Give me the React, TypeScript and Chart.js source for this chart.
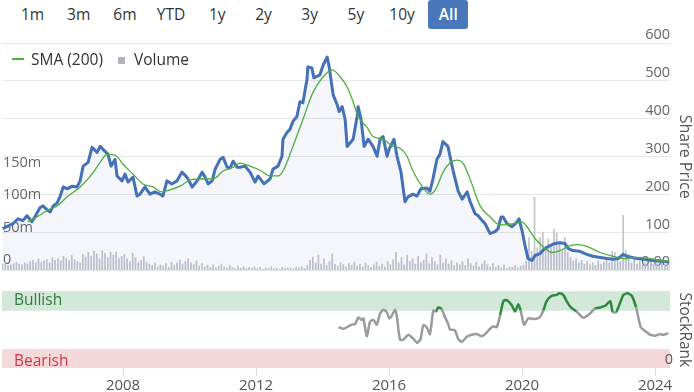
import React, { useEffect, useRef } from "react";
import { Chart, registerables } from "chart.js";
Chart.register(...registerables);

const FONT = "'Open Sans', 'Noto Sans', sans-serif";

const rangeButtons = ["1m", "3m", "6m", "YTD", "1y", "2y", "3y", "5y", "10y", "All"];
const activeButton = "All";
const xMin = 2004.36;
const xMax = 2024.45;
const xTickStep = 4;

const priceYears = [
  2004.38, 2004.69, 2004.84, 2004.99, 2005.11, 2005.26, 2005.35, 2005.5, 2005.59, 2005.71, 2005.81, 2005.9,
  2006.02, 2006.11, 2006.2, 2006.32, 2006.47, 2006.62, 2006.71, 2006.8, 2006.95, 2007.07, 2007.22, 2007.31,
  2007.46, 2007.55, 2007.64, 2007.76, 2007.82, 2007.97, 2008.06, 2008.15, 2008.3, 2008.42, 2008.51, 2008.66,
  2008.81, 2008.96, 2009.11, 2009.2, 2009.32, 2009.47, 2009.62, 2009.77, 2009.92, 2010.08, 2010.23, 2010.38,
  2010.47, 2010.56, 2010.68, 2010.77, 2010.92, 2011.01, 2011.13, 2011.22, 2011.31, 2011.43, 2011.52, 2011.67,
  2011.82, 2011.97, 2012.06, 2012.24, 2012.42, 2012.51, 2012.66, 2012.78, 2012.81, 2012.93, 2013.02, 2013.11,
  2013.23, 2013.32, 2013.41, 2013.53, 2013.56, 2013.68, 2013.74, 2013.92, 2014.02, 2014.14, 2014.2, 2014.32,
  2014.44, 2014.5, 2014.59, 2014.68, 2014.74, 2014.92, 2015.04, 2015.07, 2015.16, 2015.25, 2015.37, 2015.52,
  2015.64, 2015.73, 2015.82, 2015.94, 2016.0, 2016.15, 2016.24, 2016.36, 2016.48, 2016.57, 2016.72, 2016.84,
  2016.96, 2017.14, 2017.23, 2017.32, 2017.44, 2017.53, 2017.62, 2017.77, 2017.93, 2018.08, 2018.2, 2018.35,
  2018.44, 2018.59, 2018.68, 2018.8, 2018.89, 2019.04, 2019.19, 2019.28, 2019.37, 2019.43, 2019.55, 2019.7,
  2019.85, 2019.91, 2020.0, 2020.09, 2020.18, 2020.3, 2020.39, 2020.54, 2020.69, 2020.84, 2020.99, 2021.14,
  2021.29, 2021.38, 2021.53, 2021.74, 2021.95, 2022.13, 2022.35, 2022.56, 2022.74, 2022.89, 2023.04, 2023.16,
  2023.31, 2023.46, 2023.64, 2023.94, 2024.24, 2024.42,
];
const priceValues = [
  110, 123, 136, 131, 144, 128, 141, 165, 170, 160, 154, 170,
  178, 196, 220, 215, 222, 220, 236, 275, 285, 325, 311, 327,
  314, 306, 275, 293, 249, 236, 254, 233, 246, 196, 201, 220,
  201, 207, 201, 196, 236, 228, 236, 259, 246, 220, 236, 259,
  246, 228, 236, 267, 293, 298, 272, 270, 288, 272, 272, 275,
  259, 233, 249, 228, 241, 267, 275, 301, 346, 364, 372, 393,
  406, 445, 442, 503, 537, 534, 508, 516, 542, 563, 537, 463,
  437, 419, 432, 398, 327, 346, 406, 432, 398, 327, 346, 327,
  301, 346, 353, 301, 319, 346, 301, 259, 181, 194, 201, 196,
  215, 217, 209, 241, 293, 306, 340, 327, 262, 209, 188, 207,
  181, 149, 144, 131, 123, 97, 102, 110, 141, 141, 123, 115,
  128, 136, 105, 65, 31, 26, 39, 44, 58, 65, 71, 73,
  71, 58, 52, 50, 42, 37, 34, 31, 29, 31, 42, 37,
  34, 31, 29, 26, 24, 22,
];

const smaYears = [
  2005.14, 2005.41, 2005.81, 2006.02, 2006.32, 2006.71, 2007.07, 2007.31, 2007.52, 2007.76, 2008.0, 2008.3,
  2008.6, 2008.9, 2009.17, 2009.41, 2009.71, 2010.01, 2010.32, 2010.71, 2011.01, 2011.31, 2011.52, 2011.82,
  2012.12, 2012.42, 2012.66, 2012.81, 2013.11, 2013.41, 2013.71, 2014.02, 2014.29, 2014.53, 2014.74, 2014.92,
  2015.07, 2015.34, 2015.52, 2015.82, 2016.12, 2016.33, 2016.54, 2016.72, 2016.99, 2017.23, 2017.41, 2017.62,
  2017.83, 2018.04, 2018.23, 2018.44, 2018.74, 2019.04, 2019.25, 2019.43, 2019.73, 2020.0, 2020.15, 2020.39,
  2020.63, 2020.9, 2021.14, 2021.44, 2021.68, 2021.95, 2022.35, 2022.74, 2023.04, 2023.46, 2023.85, 2024.15,
  2024.42,
];
const smaValues = [
  128, 141, 162, 170, 194, 220, 254, 285, 306, 304, 280, 254,
  228, 220, 207, 212, 222, 238, 241, 241, 262, 272, 283, 275,
  264, 249, 249, 262, 327, 398, 469, 511, 529, 511, 484, 445,
  406, 377, 353, 346, 327, 322, 301, 262, 222, 201, 215, 258,
  283, 291, 282, 240, 170, 141, 123, 120, 123, 128, 115, 84,
  63, 47, 52, 65, 68, 63, 47, 37, 31, 34, 31, 26,
  24,
];

// Monthly volume in millions, starting May 2004
const volumeStartYear = 2004 + 4 / 12;
const volumeValues = [
  10, 12, 8, 9, 11, 13, 10, 9,
  12, 10, 14, 16, 12, 18, 13, 15, 17, 12, 20, 16,
  18, 15, 22, 19, 16, 23, 17, 14, 12, 25, 21, 28,
  22, 30, 26, 18, 31, 27, 20, 28, 24, 29, 19, 22,
  25, 18, 14, 27, 20, 12, 16, 22, 13, 10, 8, 12,
  6, 9, 7, 11, 5, 13, 8, 12, 16, 10, 14, 18,
  12, 9, 15, 7, 11, 6, 8, 5, 9, 4, 7, 10,
  6, 4, 8, 5, 3, 7, 4, 6, 3, 5, 4, 6,
  3, 5, 2, 4, 3, 6, 3, 4, 2, 5, 3, 4,
  4, 3, 5, 4, 6, 3, 8, 16, 21, 12, 24, 10,
  18, 8, 14, 26, 10, 7, 12, 9, 6, 11, 8, 13,
  7, 10, 6, 12, 8, 5, 9, 13, 7, 10, 6, 14,
  9, 17, 28, 12, 20, 9, 24, 14, 18, 10, 22, 12,
  16, 26, 11, 20, 14, 9, 24, 12, 18, 10, 15, 8,
  12, 9, 14, 8, 18, 11, 7, 13, 6, 10, 15, 9,
  6, 11, 5, 8, 4, 9, 3, 6, 5, 8, 4, 7,
  8, 15, 51, 30, 113, 35, 51, 59, 35, 49, 40, 64,
  58, 45, 30, 51, 28, 20, 15, 18, 12, 16, 10, 14,
  9, 12, 8, 15, 10, 13, 18, 12, 30, 28, 22, 14,
  85, 31, 25, 12, 18, 10, 14, 8, 12, 9, 15, 10,
  12, 8, 14, 10, 9, 11,
];
const volumeTickLabels = [0, 50, 100, 150];

const rankYears = [
  2014.48, 2014.63, 2014.78, 2014.88, 2014.98, 2015.08, 2015.18, 2015.23, 2015.33, 2015.43, 2015.53, 2015.63,
  2015.73, 2015.83, 2015.93, 2016.01, 2016.08, 2016.18, 2016.23, 2016.33, 2016.43, 2016.58, 2016.73, 2016.85,
  2016.95, 2017.03, 2017.13, 2017.23, 2017.33, 2017.41, 2017.48, 2017.58, 2017.68, 2017.78, 2017.83, 2017.98,
  2018.08, 2018.19, 2018.34, 2018.49, 2018.64, 2018.79, 2018.89, 2019.04, 2019.14, 2019.24, 2019.34, 2019.44,
  2019.54, 2019.69, 2019.79, 2019.89, 2019.96, 2020.06, 2020.19, 2020.39, 2020.54, 2020.64, 2020.74, 2020.89,
  2021.04, 2021.12, 2021.24, 2021.34, 2021.47, 2021.64, 2021.84, 2022.04, 2022.2, 2022.35, 2022.5, 2022.65,
  2022.73, 2022.83, 2022.95, 2023.05, 2023.17, 2023.3, 2023.43, 2023.57, 2023.7, 2023.85, 2024.0, 2024.15,
  2024.25, 2024.4,
];
const rankValues = [
  53.5, 51.4, 54.7, 56.8, 57.6, 66.3, 63, 65, 41.6, 60.9, 63, 56.8,
  71.2, 76.5, 73.2, 65, 68.3, 76.5, 69.1, 37, 37, 43.6, 38.3, 33,
  38.3, 56, 53.5, 44.4, 75.3, 74, 79.4, 77.4, 67, 57.6, 50.6, 49.4,
  38.3, 34.2, 41.1, 43.6, 44.4, 41.6, 44.4, 51.4, 54.7, 53.5, 69.1, 87.7,
  88.9, 82.3, 74, 83.6, 75.3, 56.8, 65, 64.2, 67, 75.3, 87.7, 94.7,
  95.9, 97.9, 95.9, 87.7, 79.4, 74, 65.8, 71.2, 78.2, 79.4, 81.5, 87.7,
  73.2, 73.2, 85.6, 95.9, 97.9, 94.7, 79.4, 53.5, 48.5, 43.6, 42.4, 44.4,
  43.6, 45.7,
];
const bullishFrom = 75;
const bearishTo = 25;

const bandsPlugin = {
  id: "rankBands",
  beforeDraw(chart: any) {
    const { ctx, chartArea, scales } = chart;
    const y = scales.y;
    ctx.save();
    ctx.fillStyle = "#d4e8da";
    const t1 = y.getPixelForValue(100);
    const b1 = y.getPixelForValue(bullishFrom);
    ctx.fillRect(chartArea.left, t1, chartArea.right - chartArea.left, b1 - t1);
    ctx.fillStyle = "#f5d8da";
    const t2 = y.getPixelForValue(bearishTo);
    const b2 = y.getPixelForValue(0);
    ctx.fillRect(chartArea.left, t2, chartArea.right - chartArea.left, b2 - t2);
    ctx.restore();
  },
};

export default function App() {
  const mainRef = useRef<HTMLCanvasElement>(null);
  const rankRef = useRef<HTMLCanvasElement>(null);

  useEffect(() => {
    const pricePts = priceYears.map((x, i) => ({ x, y: priceValues[i] }));
    const smaPts = smaYears.map((x, i) => ({ x, y: smaValues[i] }));
    const volPts = volumeValues.map((v, i) => ({ x: volumeStartYear + (i + 0.5) / 12, y: v }));
    const rankPts = rankYears.map((x, i) => ({ x, y: rankValues[i] }));

    const main = new Chart(mainRef.current!, {
      type: "line",
      data: {
        datasets: [
          {
            type: "line",
            label: "SMA (200)",
            data: smaPts,
            borderColor: "#4fae3f",
            borderWidth: 1.3,
            pointRadius: 0,
            cubicInterpolationMode: "monotone",
            fill: false,
            yAxisID: "price",
            order: 0,
          } as any,
          {
            type: "line",
            label: "Price",
            data: pricePts,
            borderColor: "#4471b8",
            borderWidth: 3,
            pointRadius: 0,
            tension: 0,
            borderJoinStyle: "round",
            fill: "origin",
            backgroundColor: "rgba(70,105,190,0.06)",
            yAxisID: "price",
            order: 1,
          } as any,
          {
            type: "bar",
            label: "Volume",
            data: volPts,
            backgroundColor: "#c3c5cc",
            barPercentage: 0.62,
            categoryPercentage: 1,
            yAxisID: "volume",
            order: 2,
          } as any,
        ],
      },
      options: {
        animation: false,
        responsive: false,
        maintainAspectRatio: false,
        layout: { padding: { top: 43, bottom: 8, left: 0, right: 0 } },
        plugins: { legend: { display: false }, tooltip: { enabled: false } },
        scales: {
          x: { type: "linear", min: xMin, max: xMax, display: false, offset: false, grid: { offset: false } },
          price: {
            type: "linear",
            position: "right",
            min: 0,
            max: 600,
            grid: { color: "#e6e6e6", drawTicks: false },
            border: { display: false },
            ticks: {
              stepSize: 100,
              mirror: true,
              padding: 0,
              labelOffset: -8,
              color: "#666",
              font: { family: FONT, size: 14.5 },
              callback: (v: any) => (v === 0 ? "0.00" : String(v)),
            },
            title: {
              display: true,
              text: "Share Price",
              color: "#555",
              font: { family: FONT, size: 16 },
              padding: { top: 0, bottom: 0 },
            },
            afterFit: (s: any) => {
              s.width = 24;
            },
          },
          volume: {
            type: "linear",
            position: "left",
            min: 0,
            max: 350,
            grid: { display: false },
            border: { display: false },
            ticks: {
              stepSize: 50,
              mirror: true,
              padding: 1,
              labelOffset: -10,
              color: "#666",
              font: { family: FONT, size: 14.5 },
              callback: (v: any) =>
                volumeTickLabels.includes(v) ? (v === 0 ? "0" : v + "m") : "",
            },
            afterFit: (s: any) => {
              s.width = 2;
            },
          },
        } as any,
      },
    });

    const rank = new Chart(rankRef.current!, {
      type: "line",
      data: {
        datasets: [
          {
            label: "StockRank",
            data: rankPts,
            borderColor: "#9b9b9b",
            borderWidth: 2.5,
            pointRadius: 0,
            tension: 0.2,
            fill: false,
            segment: {
              borderColor: (ctx: any) =>
                (ctx.p0.parsed.y + ctx.p1.parsed.y) / 2 >= bullishFrom ? "#2b8a3e" : "#9b9b9b",
            },
          } as any,
        ],
      },
      plugins: [bandsPlugin],
      options: {
        animation: false,
        responsive: false,
        maintainAspectRatio: false,
        layout: { padding: { top: 7, bottom: 0, left: 2, right: 0 } },
        plugins: { legend: { display: false }, tooltip: { enabled: false } },
        scales: {
          x: {
            type: "linear",
            min: xMin,
            max: xMax,
            offset: false,
            border: { display: false },
            grid: { drawOnChartArea: false, tickLength: 8, color: "#dcdcdc" },
            ticks: {
              stepSize: xTickStep,
              includeBounds: false,
              autoSkip: false,
              maxRotation: 0,
              padding: 1,
              color: "#555",
              font: { family: FONT, size: 15 },
              callback: (v: any) => String(v),
            },
            afterFit: (s: any) => {
              s.height = 24;
            },
          },
          y: {
            position: "right",
            min: 0,
            max: 100,
            border: { display: false },
            grid: {
              drawTicks: false,
              color: (c: any) => (c.tick && c.tick.value === 100 ? "#e3e3e3" : "rgba(0,0,0,0)"),
            },
            ticks: {
              stepSize: 25,
              mirror: true,
              padding: 3,
              labelOffset: -8,
              color: "#555",
              font: { family: FONT, size: 14.5 },
              callback: (v: any) => (v === 0 ? "0" : ""),
            },
            title: {
              display: true,
              text: "StockRank",
              color: "#555",
              font: { family: FONT, size: 15.5 },
              padding: { top: 0, bottom: 0 },
            },
            afterFit: (s: any) => {
              s.width = 24;
            },
          },
        } as any,
      },
    });

    return () => {
      main.destroy();
      rank.destroy();
    };
  }, []);

  const btnCenter0 = 32.5;
  const btnStep = 46.2;

  return (
    <div
      style={{
        position: "absolute",
        left: 0,
        top: 0,
        width: 694,
        height: 392,
        background: "#fff",
        fontFamily: FONT,
        overflow: "hidden",
      }}
    >
      {rangeButtons.map((b, i) => {
        const active = b === activeButton;
        const c = btnCenter0 + i * btnStep;
        return (
          <div
            key={b}
            style={{
              position: "absolute",
              left: c - 20,
              top: 0,
              width: 40,
              height: 29,
              lineHeight: "29px",
              textAlign: "center",
              fontSize: 15.5,
              color: active ? "#fff" : "#333",
              background: active ? "#4a77bc" : "transparent",
              borderRadius: 3,
              fontWeight: active ? 600 : 400,
            }}
          >
            {b}
          </div>
        );
      })}
      <canvas
        ref={mainRef}
        width={694}
        height={280}
        style={{ position: "absolute", left: 0, top: 0, width: 694, height: 280 }}
      />
      <canvas
        ref={rankRef}
        width={694}
        height={112}
        style={{ position: "absolute", left: 0, top: 280, width: 694, height: 112 }}
      />
      {/* legend */}
      <div style={{ position: "absolute", left: 12, top: 58, width: 12, height: 1.5, background: "#4fae3f" }} />
      <div
        style={{
          position: "absolute",
          left: 31,
          top: 48,
          height: 22,
          lineHeight: "22px",
          fontSize: 15.5,
          color: "#333",
          whiteSpace: "nowrap",
        }}
      >
        SMA (200)
      </div>
      <div style={{ position: "absolute", left: 118, top: 57, width: 7, height: 7, background: "#b0b3bb" }} />
      <div
        style={{
          position: "absolute",
          left: 134,
          top: 48,
          height: 22,
          lineHeight: "22px",
          fontSize: 15.5,
          color: "#333",
          whiteSpace: "nowrap",
        }}
      >
        Volume
      </div>
      {/* rank band labels */}
      <div
        style={{
          position: "absolute",
          left: 14,
          top: 288,
          height: 22,
          lineHeight: "22px",
          fontSize: 15.5,
          color: "#2f7d3b",
        }}
      >
        Bullish
      </div>
      <div
        style={{
          position: "absolute",
          left: 14,
          top: 349,
          height: 22,
          lineHeight: "22px",
          fontSize: 15.5,
          color: "#d0384a",
        }}
      >
        Bearish
      </div>
    </div>
  );
}
